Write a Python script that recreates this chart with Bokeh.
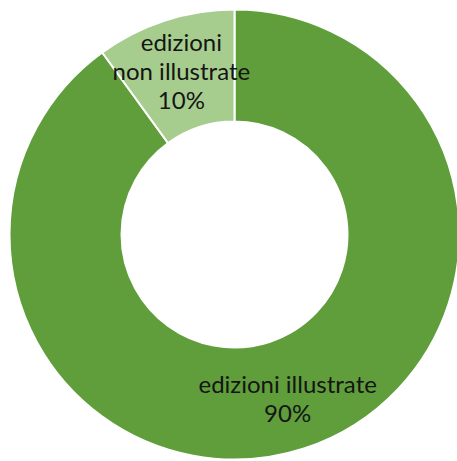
import math
from bokeh.plotting import figure
from bokeh.models import ColumnDataSource
from bokeh.core.properties import value
from bokeh.embed import file_html
from bokeh.resources import INLINE

categories = ["edizioni illustrate", "edizioni non illustrate"]
values = [90, 10]
label_lines = [["edizioni illustrate", "90%"], ["edizioni", "non illustrate", "10%"]]
colors = ["#5f9e3b", "#a6cd8d"]

W, H = 457, 461
cx, cy = 234, H - 234
r_out, r_in = 225, 113
label_r = 172
line_gap = 29

total = sum(values)
starts, ends = [], []
tx, ty, tt = [], [], []
cum = 0.0
for v, lines in zip(values, label_lines):
    a0 = math.pi / 2 - 2 * math.pi * cum / total
    a1 = math.pi / 2 - 2 * math.pi * (cum + v) / total
    starts.append(a0)
    ends.append(a1)
    mid = (a0 + a1) / 2
    mx = cx + label_r * math.cos(mid)
    my = cy + label_r * math.sin(mid)
    n = len(lines)
    for i, s in enumerate(lines):
        tx.append(mx)
        ty.append(my + ((n - 1) / 2 - i) * line_gap)
        tt.append(s)
    cum += v

src = ColumnDataSource(dict(start=starts, end=ends, color=colors,
                            x=[cx] * len(values), y=[cy] * len(values)))
lsrc = ColumnDataSource(dict(x=tx, y=ty, text=tt))

p = figure(width=W, height=H, x_range=(0, W), y_range=(0, H),
           output_backend="svg", toolbar_location=None, min_border=0)
p.axis.visible = False
p.grid.visible = False
p.outline_line_color = None
p.background_fill_color = "white"

p.annular_wedge(x="x", y="y", inner_radius=r_in, outer_radius=r_out,
                start_angle="start", end_angle="end", direction="clock",
                fill_color="color", line_color="white", line_width=2, source=src)

p.text(x="x", y="y", text="text", source=lsrc, text_align="center",
       text_baseline="middle", text_font=value("Lato"), text_font_size="24px",
       text_color="#151515")

open("out.html", "w").write(file_html(p, INLINE))
